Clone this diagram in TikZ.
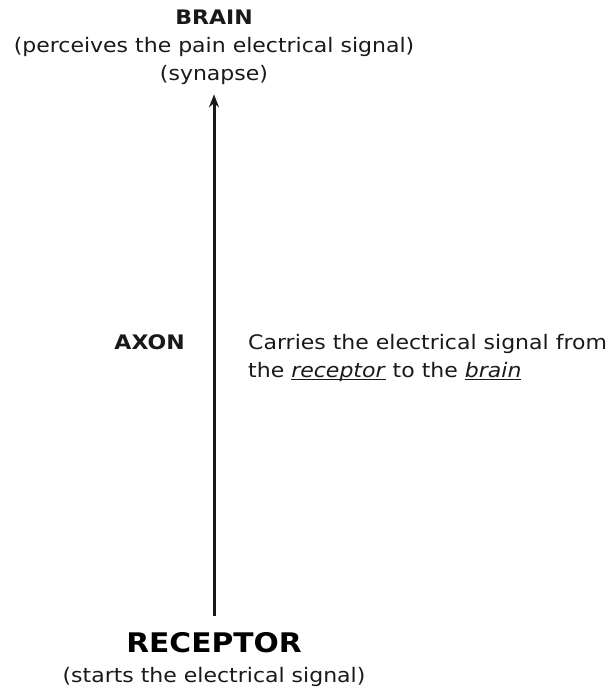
\documentclass[tikz,border=0pt]{standalone}
\usepackage{fontspec}
\setmainfont[FakeStretch=1.1]{DejaVu Sans}
\usetikzlibrary{arrows.meta}
\newcommand\myul[1]{\setbox0\hbox{#1}\rlap{\rule[-2.6pt]{\wd0}{0.8pt}}\box0\relax}
\tikzset{
  txt/.style={inner sep=0pt, font=\fontsize{20}{28}\selectfont, text=black!90},
  bigbold/.style={inner sep=0pt, font=\fontsize{27}{30}\selectfont\bfseries},
  axonarrow/.style={line width=3pt, draw=black!90, -{Stealth[length=13pt,width=10pt]}}
}
\begin{document}
\begin{tikzpicture}[x=1pt,y=-1pt]
\useasboundingbox (0,0) rectangle (612,687);
\node[txt, align=center, anchor=base] (brain) at (214,81)
  {\textbf{BRAIN}\\(perceives the pain electrical signal)\\(synapse)};
\node[bigbold, anchor=base] (receptor) at (214,652) {RECEPTOR};
\node[txt, anchor=base] (receptorsub) at (214,682) {(starts the electrical signal)};
\node[txt, anchor=base east, font=\fontsize{20}{28}\selectfont\bfseries] (axon) at (185,349) {AXON};
\node[txt, anchor=base west, align=left] (desc) at (248,377)
  {Carries the electrical signal from\\the \myul{\textit{receptor}} to the \myul{\textit{brain}}};
\draw[axonarrow, shorten <=16pt, shorten >=9pt] (receptor.north) -- (brain.south);
\end{tikzpicture}
\end{document}
